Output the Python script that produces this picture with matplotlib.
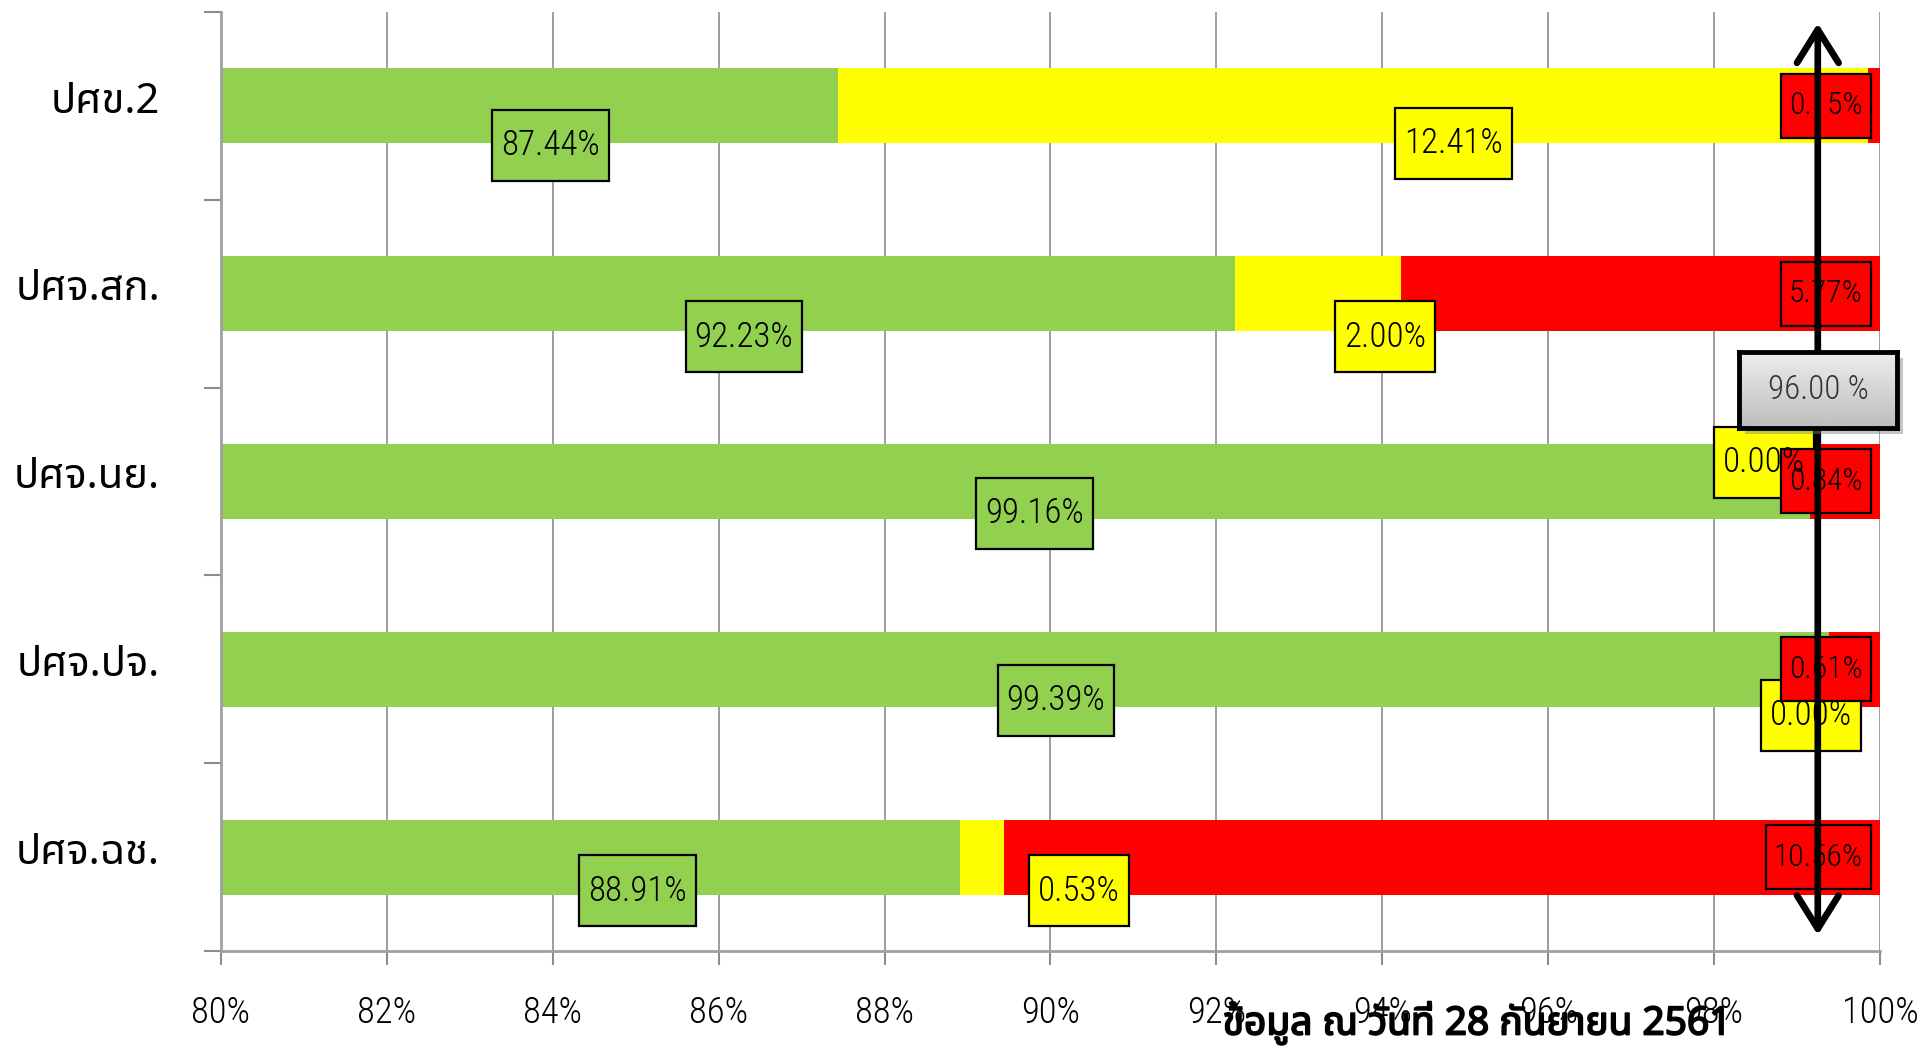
import matplotlib
matplotlib.use('Agg')
import numpy as np
import matplotlib.pyplot as plt
from matplotlib import font_manager
from matplotlib import patheffects
from matplotlib.ft2font import FT2Font
from matplotlib.patches import Rectangle
from matplotlib.transforms import IdentityTransform

# data
categories = ['ปศข.2', 'ปศจ.สก.', 'ปศจ.นย.', 'ปศจ.ปจ.', 'ปศจ.ฉช.']
green = [87.44, 92.23, 99.16, 99.39, 88.91]
yellow = [12.41, 2.00, 0.00, 0.00, 0.53]
red = [0.15, 5.77, 0.84, 0.61, 10.56]
x_ticks = [80, 82, 84, 86, 88, 90, 92, 94, 96, 98, 100]
target_text = '96.00 %'
note_text = 'ข้อมูล ณ วันที่ 28 กันยายน 2561'

# manual nudges of the data labels (layout only)
green_dx = [0.25, 0.19, 0.23, 0.37, 0.57]
green_dy = [0.21, 0.23, 0.17, 0.165, 0.18]
yellow_dx = [1.215, 0.80, -0.56, -0.22, 1.165]
yellow_dy = [0.20, 0.23, -0.10, 0.245, 0.18]


def thai_family():
    found = []
    for f in font_manager.fontManager.ttflist:
        try:
            cmap = FT2Font(f.fname).get_charmap()
        except Exception:
            continue
        if 0x0E28 in cmap and 0x0E1B in cmap:
            found.append(f.name)
    for name in ['Noto Sans Thai', 'Noto Sans Thai UI', 'Sarabun', 'Loma',
                 'Garuda', 'Norasi', 'Kinnari']:
        if name in found:
            return name
    return found[0] if found else 'DejaVu Sans'


THAI = thai_family()
names = {f.name for f in font_manager.fontManager.ttflist}
NUM = 'DejaVu Sans'
k = 1.0
for cand in ['Liberation Sans Narrow', 'DejaVu Sans Condensed', 'Roboto Condensed']:
    if cand in names:
        NUM = cand
        k = 1.2
        break
plt.rcParams['font.family'] = [NUM, 'DejaVu Sans']
plt.rcParams['font.weight'] = 'light'

fig = plt.figure(figsize=(19.24, 10.46), dpi=100)
ax = fig.add_axes([0.11486, 0.09082, 0.86227, 0.89771])

y = np.arange(len(categories))
g = np.array(green)
yl = np.array(yellow)
r = np.array(red)
ax.barh(y, g, height=0.4, color='#92D050', zorder=2)
ax.barh(y, yl, left=g, height=0.4, color='#FFFF00', zorder=2)
ax.barh(y, r, left=g + yl, height=0.4, color='#FF0000', zorder=2)

ax.set_xlim(80, 100)
ax.set_ylim(len(categories) - 0.5, -0.5)
ax.set_xticks(x_ticks)
ax.set_xticklabels([f'{t}%' for t in x_ticks], fontsize=22 * k)
# category labels sit a little above the bar centres (major ticks are hidden)
ax.set_yticks(y - 0.05)
ax.set_yticklabels(categories, fontsize=30, family=[THAI, 'DejaVu Sans'],
                   fontweight='normal')
ax.set_yticks(np.arange(-0.5, len(categories), 1), minor=True)
ax.tick_params(axis='y', which='major', length=0, pad=44)
ax.tick_params(axis='y', which='minor', length=12, width=1.5, color='#8c8c8c')
ax.tick_params(axis='x', length=10, width=1.5, color='#8c8c8c', pad=22)
ax.xaxis.grid(True, color='#8c8c8c', lw=1.2, zorder=0)
ax.set_axisbelow(True)
for s in ['top', 'right']:
    ax.spines[s].set_visible(False)
for s in ['left', 'bottom']:
    ax.spines[s].set_color('#a0a0a0')
    ax.spines[s].set_linewidth(2)

renderer = fig.canvas.get_renderer()


def boxed(x, yv, s, fc, size, h_px, padx, anchor='center'):
    t = ax.text(0, 0, s, ha='center', va='center', fontsize=size, zorder=7)
    bb = t.get_window_extent(renderer)
    w = bb.width + 2 * padx
    px, py = ax.transData.transform((x, yv))
    if anchor == 'right':
        px = px - w / 2
    t.set_position(ax.transData.inverted().transform((px, py)))
    ax.add_patch(Rectangle((px - w / 2, py - h_px / 2), w, h_px,
                           transform=IdentityTransform(), fc=fc, ec='black',
                           lw=1.6, zorder=6, clip_on=False))


for i in range(len(categories)):
    gx = (80 + g[i]) / 2 + green_dx[i]
    boxed(gx, y[i] + green_dy[i], f'{green[i]:.2f}%', '#92D050', 21 * k, 71, 9)
    yx = g[i] + yl[i] / 2 + yellow_dx[i]
    boxed(yx, y[i] + yellow_dy[i], f'{yellow[i]:.2f}%', '#FFFF00', 21 * k, 71, 9)
    boxed(99.89, y[i], f'{red[i]:.2f}%', '#FF0000', 19 * k, 64, 8, anchor='right')

# double-headed marker arrow
ax.annotate('', xy=(99.25, 0.988), xytext=(99.25, 0.017),
            xycoords=('data', 'axes fraction'),
            textcoords=('data', 'axes fraction'),
            arrowprops=dict(arrowstyle='<->,head_length=0.8,head_width=0.5',
                            lw=4.8, color='black', mutation_scale=30,
                            shrinkA=0, shrinkB=0, capstyle='round',
                            joinstyle='round'),
            zorder=9)

# target box with gradient and shadow
bx, by, bw, bh = 0.9038, 0.5908, 0.0822, 0.0727
fig.add_artist(Rectangle((bx + 0.003, by - 0.006), bw, bh, transform=fig.transFigure,
                         fc='#7f7f7f', alpha=0.45, ec='none', zorder=1))
bax = fig.add_axes([bx, by, bw, bh], zorder=2)
grad = np.linspace(0.93, 0.74, 60).reshape(-1, 1)
bax.imshow(grad, cmap='gray', vmin=0, vmax=1, aspect='auto', extent=[0, 1, 0, 1])
bax.set_xticks([])
bax.set_yticks([])
for s in bax.spines.values():
    s.set_linewidth(3.5)
    s.set_color('black')
bax.text(0.5, 0.5, target_text, ha='center', va='center', fontsize=18 * k * 1.1,
         color='#333333', transform=bax.transAxes)

fig.text(0.7677, 0.022, note_text, ha='center', va='center', fontsize=28,
         fontweight='bold', family=[THAI, 'DejaVu Sans'],
         path_effects=[patheffects.withStroke(linewidth=1.3, foreground='black')])

fig.savefig('out.png', dpi=100)
